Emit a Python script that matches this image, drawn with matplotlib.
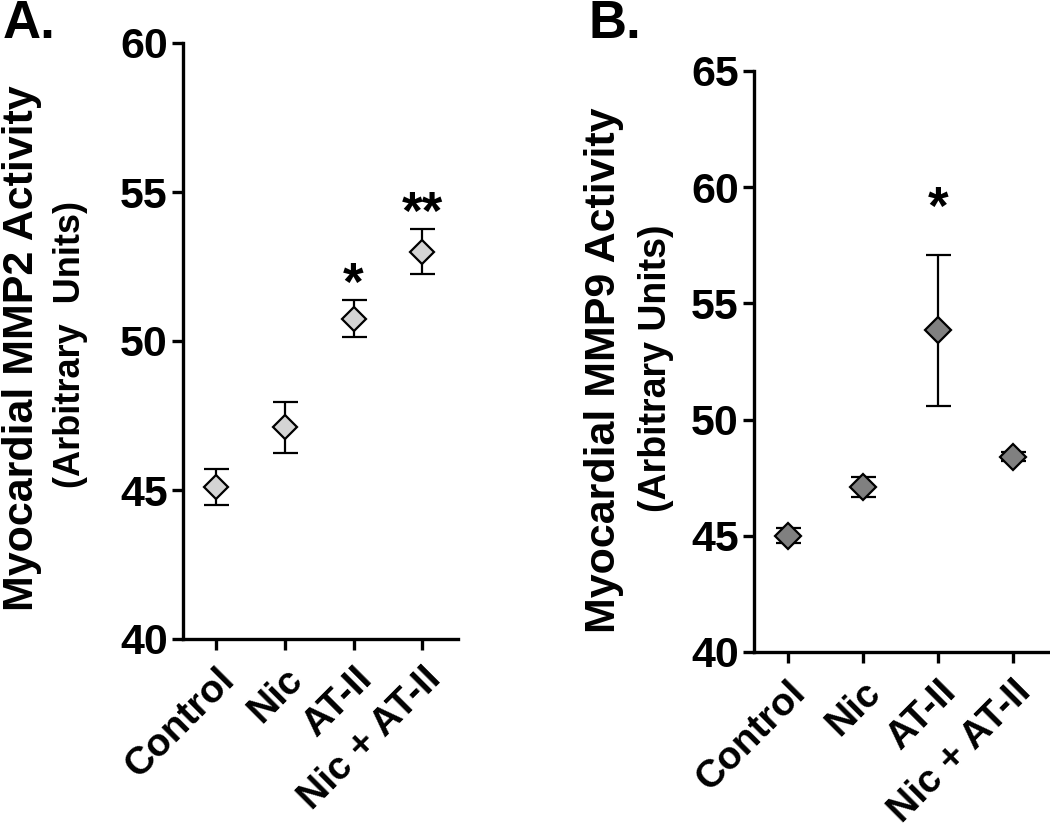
import numpy as np
import matplotlib
matplotlib.use("Agg")
import matplotlib.pyplot as plt

plt.rcParams['font.family'] = ['Liberation Sans', 'DejaVu Sans']
plt.rcParams['font.weight'] = 'bold'

groups = ['Control', 'Nic', 'AT-II', 'Nic + AT-II']

# panel A - MMP2
mmp2_mean = [45.1, 47.1, 50.75, 53.0]
mmp2_err = [0.6, 0.85, 0.62, 0.75]
mmp2_stars = ['', '', '*', '**']

# panel B - MMP9
mmp9_mean = [45.0, 47.1, 53.85, 48.4]
mmp9_err = [0.33, 0.45, 3.25, 0.2]
mmp9_stars = ['', '', '*', '']

W, H = 1050, 831
fig = plt.figure(figsize=(W / 100, H / 100), dpi=100)


def panel(rect, means, errs, stars, face, ylim, yticks, xlim, star_off, ms):
    ax = fig.add_axes(rect)
    x = np.arange(len(groups))
    ax.errorbar(x, means, yerr=errs, fmt='none', ecolor='black',
                elinewidth=1.6, capsize=9, capthick=1.6, zorder=2)
    ax.plot(x, means, 'D', ms=ms, mfc=face, mec='black', mew=1.6, zorder=3)
    for xi, m, e, s in zip(x, means, errs, stars):
        if s:
            ax.text(xi, m + e + star_off, s, ha='center', va='baseline',
                    fontsize=38, fontweight='bold')
    ax.set_xlim(*xlim)
    ax.set_ylim(*ylim)
    ax.set_yticks(yticks)
    ax.set_xticks(x)
    ax.set_xticklabels(groups, rotation=45, ha='right', rotation_mode='anchor',
                       fontsize=28, fontweight='bold')
    ax.tick_params(axis='y', labelsize=31, width=2.4, length=8, pad=3)
    ax.tick_params(axis='x', width=2.4, length=8, pad=8)
    for lab in ax.get_yticklabels():
        lab.set_fontweight('bold')
    for side in ['top', 'right']:
        ax.spines[side].set_visible(False)
    for side in ['left', 'bottom']:
        ax.spines[side].set_linewidth(2.4)
    return ax


axA = panel([183 / W, 1 - 639 / H, (458 - 183) / W, (639 - 43) / H],
            mmp2_mean, mmp2_err, mmp2_stars, '#d4d4d4',
            (40, 60), [40, 45, 50, 55, 60], (-0.48, 3.52), 0.0, 12)
axB = panel([754 / W, 1 - 652 / H, (1049 - 754) / W, (652 - 71) / H],
            mmp9_mean, mmp9_err, mmp9_stars, '#808080',
            (40, 65), [40, 45, 50, 55, 60, 65], (-0.45, 3.48), 1.3, 13)

fig.text(22 / W, 1 - 348 / H, 'Myocardial MMP2 Activity', rotation=90,
         ha='center', va='center', fontsize=31, fontweight='bold')
fig.text(70 / W, 1 - 345 / H, '(Arbitrary  Units)', rotation=90,
         ha='center', va='center', fontsize=26, fontweight='bold')
fig.text(604 / W, 1 - 370 / H, 'Myocardial MMP9 Activity', rotation=90,
         ha='center', va='center', fontsize=31, fontweight='bold')
fig.text(656 / W, 1 - 368 / H, '(Arbitrary Units)', rotation=90,
         ha='center', va='center', fontsize=27, fontweight='bold')

fig.text(3 / W, 1 - 38 / H, 'A.', fontsize=38, fontweight='bold', va='baseline')
fig.text(588 / W, 1 - 38 / H, 'B.', fontsize=38, fontweight='bold', va='baseline')

fig.savefig('out.png', dpi=100)
